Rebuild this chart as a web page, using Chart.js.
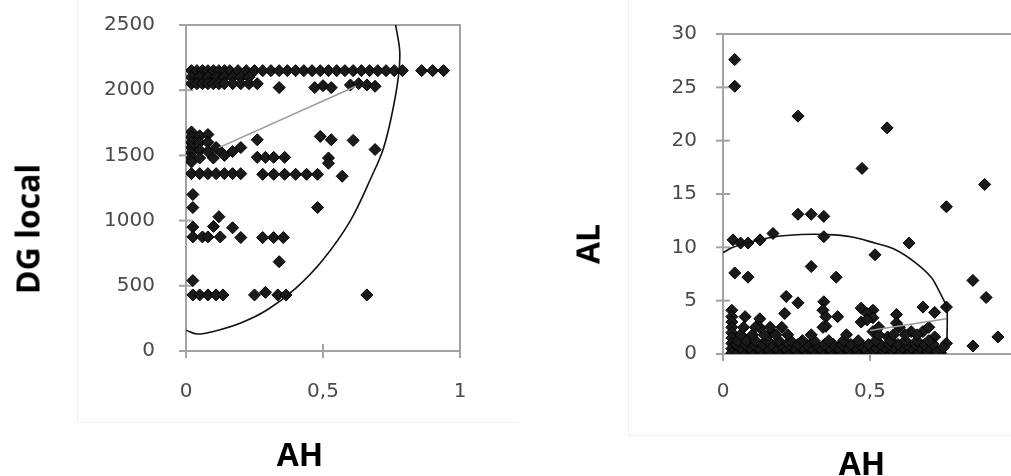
<!DOCTYPE html>
<html>
<head>
<meta charset="utf-8">
<script src="https://cdn.jsdelivr.net/npm/chart.js@4.4.1/dist/chart.umd.min.js"></script>
<style>
  html, body { margin:0; padding:0; background:#fff; }
  body { width:1011px; height:476px; overflow:hidden; position:relative; }
  canvas { position:absolute; top:0; }
  .title { position:absolute; font-family:"Open Sans", sans-serif; font-weight:700; font-size:32px;
           color:#000; white-space:nowrap; transform:translate(-50%,-50%); }
  .rot { transform:translate(-50%,-50%) rotate(-90deg); }
  .frame { position:absolute; border-left:1px solid #f0f0f0; border-bottom:1px solid #f0f0f0; }
</style>
</head>
<body>

<div class="frame" style="left:77px; top:0; width:440px; height:422px"></div>
<div class="frame" style="left:628px; top:0; width:400px; height:435px"></div>

<canvas id="left" width="500" height="476" style="left:0"></canvas>
<canvas id="right" width="500" height="476" style="left:560px"></canvas>

<div class="title rot" style="left:27px; top:229px">DG local</div>
<div class="title" style="left:300px; top:453px">AH</div>
<div class="title rot" style="left:587px; top:244px">AL</div>
<div class="title" style="left:862px; top:462px">AH</div>

<script>

// ---- left chart: AH vs DG local ----
const dgAH = [
  0.02,0.04,0.06,0.08,0.10,0.12,0.14,0.16,0.19,0.22,0.25,0.28,0.31,0.34,0.37,0.40,
  0.43,0.46,0.49,0.52,0.55,0.58,0.61,0.64,0.67,0.70,0.73,0.76,0.79,0.86,0.90,0.94,
  0.02,0.05,0.08,0.11,0.14,0.17,0.20,0.23,
  0.02,0.04,0.06,0.08,0.10,0.12,0.14,0.17,0.20,0.23,0.26,
  0.34,0.47,0.50,0.53,0.60,0.63,0.66,0.69,
  0.02,0.02,0.02,0.02,0.02,0.02,0.02,0.05,0.08,0.05,0.08,0.05,0.08,0.11,0.13,0.05,0.10,0.14,0.17,0.20,0.26,
  0.26,0.29,0.32,0.36,0.52,
  0.49,0.53,0.61,0.69,0.52,
  0.02,0.05,0.08,0.11,0.14,0.17,0.20,0.28,0.32,0.36,0.40,0.44,0.48,0.57,
  0.025,0.025,0.48,0.12,
  0.025,0.10,0.025,0.06,0.08,0.125,0.17,0.20,0.28,0.32,0.355,
  0.34,
  0.025,0.025,0.05,0.08,0.11,0.135,0.25,0.29,0.335,0.365,0.66
]
const dgLocal = [
  2150,2150,2150,2150,2150,2150,2150,2150,2150,2150,2150,2150,2150,2150,2150,2150,
  2150,2150,2150,2150,2150,2150,2150,2150,2150,2150,2150,2150,2150,2150,2150,2150,
  2100,2100,2100,2100,2100,2100,2100,2100,
  2050,2050,2050,2050,2050,2050,2050,2050,2050,2050,2050,
  2020,2020,2035,2020,2040,2050,2040,2030,
  1680,1640,1600,1560,1520,1480,1450,1650,1660,1600,1600,1540,1530,1560,1520,1480,1480,1500,1530,1560,1620,
  1485,1485,1485,1485,1480,
  1645,1620,1615,1545,1440,
  1360,1360,1360,1360,1360,1360,1360,1355,1355,1355,1355,1355,1355,1340,
  1200,1100,1100,1030,
  950,955,875,875,875,875,945,870,870,870,870,
  685,
  540,430,430,430,430,430,430,450,430,430,430
]
const dgCurveAH    = [0, 0.04, 0.10, 0.20, 0.30, 0.40, 0.50, 0.60, 0.68, 0.72, 0.75, 0.775, 0.78, 0.765]
const dgCurveLocal = [160, 130, 150, 215, 320, 480, 700, 1000, 1350, 1550, 1800, 2100, 2300, 2500]
const dgTrendAH    = [0.12, 0.62]
const dgTrendLocal = [1560, 2030]
const dgTicksY = [0, 500, 1000, 1500, 2000, 2500]

// ---- right chart: AH vs AL ----
const alAH = [
  0.04,0.04,0.255,0.558,0.473,0.89,0.76,0.255,0.30,0.343,
  0.034,0.06,0.085,0.126,0.17,0.343,0.517,0.633,
  0.04,0.085,0.30,0.385,0.85,0.895,0.215,0.255,0.343,
  0.21,0.34,0.35,0.39,0.47,0.51,0.47,0.59,0.68,0.72,0.76,0.76,0.85,0.935,
  0.03,0.03,0.03,0.03,0.03,0.03,0.03,0.03,0.03,
  0.075,0.125,0.125,0.165,0.35,0.49,0.51,0.64,0.68,0.51,0.56,0.72,0.59,0.49,
  0.05,0.08,0.11,0.14,0.17,0.20,0.23,0.26,0.29,0.32,0.35,0.38,0.41,0.44,0.47,0.50,0.53,0.56,0.59,0.62,0.65,0.68,0.71,0.74,
  0.065,0.095,0.125,0.155,0.185,0.215,0.245,0.275,0.305,0.335,0.365,0.395,0.425,0.455,0.485,0.515,0.545,0.575,0.605,0.635,0.665,0.695,0.725,
  0.06,0.09,0.12,0.15,0.18,0.21,0.24,0.27,0.30,0.33,0.36,0.39,0.42,0.45,0.48,0.52,0.55,0.58,0.61,0.64,0.67,0.70,0.75,
  0.045,0.075,0.105,0.135,0.165,0.195,0.225,0.255,0.285,0.315,0.345,0.375,0.405,0.435,0.465,0.495,0.535,0.565,0.595,0.625,0.655,0.685,0.715,
  0.05,0.08,0.11,0.15,0.19,0.23,0.27,0.31,0.36,0.41,0.46,0.52,0.57,0.62,0.66,0.70,
  0.06,0.10,0.14,0.18,0.22,0.30,0.42,0.53,0.58,0.62,0.66,
  0.07,0.11,0.16,0.20,0.34,0.53,0.60,0.70
]
const alAL = [
  27.6,25.1,22.3,21.2,17.4,15.9,13.8,13.1,13.1,12.9,
  10.7,10.4,10.4,10.7,11.3,11.0,9.3,10.4,
  7.6,7.2,8.2,7.2,6.9,5.3,5.4,4.8,4.9,
  3.8,4.1,3.5,3.5,4.3,4.1,3.0,3.7,4.4,3.9,4.4,1.0,0.75,1.6,
  4.1,3.5,3.0,2.5,2.0,1.5,1.0,0.5,0.1,
  3.5,3.3,2.5,2.0,2.6,3.8,3.4,2.1,2.1,2.1,1.6,1.6,2.9,3.2,
  0.1,0.1,0.1,0.1,0.1,0.1,0.1,0.1,0.1,0.1,0.1,0.1,0.1,0.1,0.1,0.1,0.1,0.1,0.1,0.1,0.1,0.1,0.1,0.1,
  0.35,0.35,0.35,0.35,0.35,0.35,0.35,0.35,0.35,0.35,0.35,0.35,0.35,0.35,0.35,0.35,0.35,0.35,0.35,0.35,0.35,0.35,0.35,
  0.6,0.6,0.6,0.6,0.6,0.6,0.6,0.6,0.6,0.6,0.6,0.6,0.6,0.6,0.6,0.6,0.6,0.6,0.6,0.6,0.6,0.6,0.6,
  0.9,0.9,0.9,0.9,0.9,0.9,0.9,0.9,0.9,0.9,0.9,0.9,0.9,0.9,0.9,0.9,0.9,0.9,0.9,0.9,0.9,0.9,0.9,
  1.25,1.25,1.25,1.25,1.25,1.25,1.25,1.25,1.25,1.25,1.25,1.25,1.25,1.25,1.25,1.25,
  1.8,1.8,1.8,1.8,1.8,1.8,1.8,1.8,1.8,1.8,1.8,
  2.5,2.5,2.5,2.5,2.5,2.5,2.5,2.5
]
const alCurveAH = [0, 0.034, 0.095, 0.177, 0.265, 0.347, 0.435, 0.517, 0.585, 0.653, 0.708, 0.737, 0.755, 0.762, 0.762]
const alCurveAL = [9.5, 10.0, 10.5, 11.0, 11.2, 11.2, 11.0, 10.4, 9.8, 8.6, 7.2, 5.8, 4.8, 4.4, 1.2]
const alTrendAH = [0.50, 0.76]
const alTrendAL = [2.2, 3.3]
const alTicksY = [0, 5, 10, 15, 20, 25, 30]

const ahTicks = [0, 0.5, 1]

const axisGray = "#a3a3a3"
const labelColor = "#4a4a4a"

function pts(xs, ys){
    return xs.map((x,i)=>({x:x, y:ys[i]}))
}

const frameAndTicks = {
    id:"frameAndTicks",
    beforeDatasetsDraw(chart){
        const ctx = chart.ctx
        const a = chart.chartArea
        const xs = chart.scales.x
        const ys = chart.scales.y
        ctx.save()
        ctx.strokeStyle = axisGray
        ctx.lineWidth = 2
        ctx.beginPath()
        ctx.moveTo(a.left, a.top)
        ctx.lineTo(a.right, a.top)
        ctx.lineTo(a.right, a.bottom)
        ctx.stroke()
        xs.ticks.forEach(t=>{
            const px = xs.getPixelForValue(t.value)
            ctx.beginPath()
            ctx.moveTo(px, a.bottom - 7)
            ctx.lineTo(px, a.bottom + 7)
            ctx.stroke()
        })
        ys.ticks.forEach(t=>{
            const py = ys.getPixelForValue(t.value)
            ctx.beginPath()
            ctx.moveTo(a.left - 7, py)
            ctx.lineTo(a.left + 7, py)
            ctx.stroke()
        })
        ctx.restore()
    }
}

function makeChart(id, cfg){

    const tickFont = {family:"DejaVu Sans", size:20}
    const hidden = "rgba(0,0,0,0)"

    return new Chart(document.getElementById(id), {
        type:"scatter",
        data:{
            datasets:[
                {
                    data:pts(cfg.curveX, cfg.curveY),
                    showLine:true,
                    borderColor:"#111",
                    borderWidth:1.6,
                    pointRadius:0,
                    tension:0.35
                },
                {
                    data:pts(cfg.trendX, cfg.trendY),
                    showLine:true,
                    borderColor:"#9a9a9a",
                    borderWidth:1.5,
                    pointRadius:0
                },
                {
                    data:pts(cfg.x, cfg.y),
                    pointStyle:"rectRot",
                    pointRadius:6,
                    backgroundColor:"#1a1a1a",
                    borderColor:"#000",
                    borderWidth:1
                }
            ]
        },
        options:{
            responsive:false,
            animation:false,
            events:[],
            layout:{autoPadding:false, padding:{left:0, right:cfg.padRight, top:cfg.top, bottom:0}},
            plugins:{legend:{display:false}, tooltip:{enabled:false}},
            scales:{
                x:{
                    type:"linear",
                    min:0, max:1,
                    afterBuildTicks:(s)=>{ s.ticks = ahTicks.map(v=>({value:v})) },
                    afterFit:(s)=>{ s.height = cfg.xHeight },
                    grid:{display:true, drawOnChartArea:false, drawTicks:true, tickLength:cfg.xGap, color:hidden},
                    border:{display:true, color:axisGray, width:2},
                    ticks:{
                        color:labelColor, font:tickFont, padding:2,
                        callback:(v)=>String(v).replace(".", ",")
                    }
                },
                y:{
                    type:"linear",
                    min:0, max:cfg.yTicks[cfg.yTicks.length-1],
                    afterBuildTicks:(s)=>{ s.ticks = cfg.yTicks.map(v=>({value:v})) },
                    afterFit:(s)=>{ s.width = cfg.yWidth },
                    grid:{display:true, drawOnChartArea:false, drawTicks:true, tickLength:cfg.yGap, color:hidden},
                    border:{display:true, color:axisGray, width:2},
                    ticks:{color:labelColor, font:tickFont, padding:2, callback:(v)=>String(v)}
                }
            }
        },
        plugins:[frameAndTicks]
    })
}

makeChart("left", {
    x:dgAH, y:dgLocal,
    curveX:dgCurveAH, curveY:dgCurveLocal,
    trendX:dgTrendAH, trendY:dgTrendLocal,
    yTicks:dgTicksY,
    top:25, xHeight:125, yWidth:186, padRight:40,
    xGap:27, yGap:29
})

makeChart("right", {
    x:alAH, y:alAL,
    curveX:alCurveAH, curveY:alCurveAL,
    trendX:alTrendAH, trendY:alTrendAL,
    yTicks:alTicksY,
    top:34, xHeight:122, yWidth:163, padRight:43,
    xGap:24, yGap:24
})

</script>
</body>
</html>
